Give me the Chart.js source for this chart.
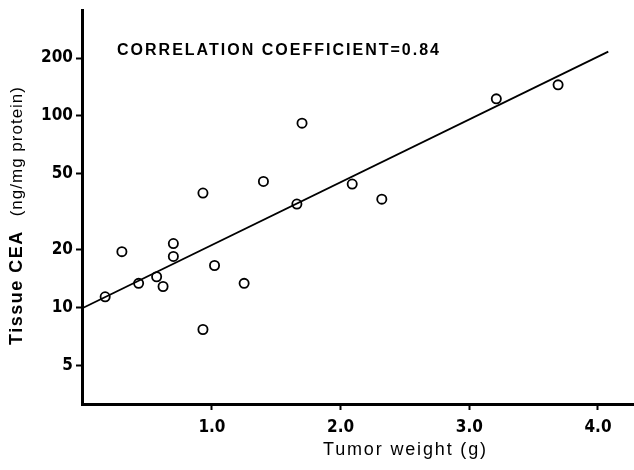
<!DOCTYPE html>
<html>
<head>
<meta charset="utf-8">
<script src="https://cdn.jsdelivr.net/npm/chart.js@4.4.1/dist/chart.umd.min.js"></script>
<style>
  html, body { margin: 0; padding: 0; background: #fff; }
  #wrap { width: 634px; height: 470px; }
</style>
</head>
<body>
<div id="wrap"><canvas id="c" width="634" height="470"></canvas></div>
<script>
// ---- data ----
const tumorWeight = [0.17, 0.30, 0.43, 0.57, 0.62, 0.70, 0.70, 0.93, 0.93, 1.02, 1.25, 1.40, 1.66, 1.70, 2.09, 2.32, 3.21, 3.69];
const tissueCEA   = [11.4, 19.6, 13.4, 14.5, 12.9, 21.6, 18.5, 39.6, 7.7, 16.6, 13.4, 45.5, 34.7, 91.6, 44.1, 36.8, 122.6, 145];
const fitX = [0, 4.08];
const fitY = [10, 216];
const xTicks = [1, 2, 3, 4];
const yTicks = [5, 10, 20, 50, 100, 200];
const annotationText = 'CORRELATION COEFFICIENT=0.84';
const xTitle = 'Tumor weight (g)';
const yTitleBold = 'Tissue CEA';
const yTitleRest = '(ng/mg protein)';

const tickFont = { family: 'DejaVu Sans Condensed, DejaVu Sans', weight: 'bold', size: 17 };

function fitText(ctx, text, width) {
  ctx.letterSpacing = '0px';
  const w = ctx.measureText(text).width;
  const ls = (width - w) / Math.max(1, text.length - 1);
  ctx.letterSpacing = ls + 'px';
}

const textPlugin = {
  id: 'texts',
  afterDraw(chart) {
    const ctx = chart.ctx;
    const a = chart.chartArea;
    ctx.save();
    ctx.fillStyle = '#000';
    ctx.textBaseline = 'middle';
    ctx.textAlign = 'left';
    // annotation
    ctx.font = 'bold 16px "Liberation Sans", Arial, sans-serif';
    fitText(ctx, annotationText, 322);
    ctx.fillText(annotationText, a.left + 35, a.top + 41);
    // x title
    ctx.font = '18px "Liberation Sans", Arial, sans-serif';
    fitText(ctx, xTitle, 163);
    ctx.fillText(xTitle, a.left + 241, a.bottom + 46);
    // y title (rotated)
    ctx.translate(17, 345);
    ctx.rotate(-Math.PI / 2);
    ctx.font = 'bold 18px "Liberation Sans", Arial, sans-serif';
    ctx.letterSpacing = '1.5px';
    ctx.fillText(yTitleBold, 0, 0);
    const w1 = ctx.measureText(yTitleBold).width;
    ctx.font = '17px "Liberation Sans", Arial, sans-serif';
    ctx.letterSpacing = '1px';
    ctx.fillText(yTitleRest, w1 + 14, 0);
    ctx.restore();
  }
};

new Chart(document.getElementById('c'), {
  type: 'scatter',
  data: {
    datasets: [
      {
        type: 'line',
        data: fitX.map((x, i) => ({ x, y: fitY[i] })),
        borderColor: '#000',
        borderWidth: 1.8,
        pointRadius: 0,
        fill: false
      },
      {
        data: tumorWeight.map((x, i) => ({ x, y: tissueCEA[i] })),
        pointRadius: 4.6,
        pointBorderWidth: 1.8,
        pointBorderColor: '#000',
        pointBackgroundColor: '#fff'
      }
    ]
  },
  options: {
    responsive: false,
    animation: false,
    devicePixelRatio: 1,
    layout: { autoPadding: false, padding: { top: 10, right: 0, left: 0, bottom: 0 } },
    plugins: { legend: { display: false }, tooltip: { enabled: false } },
    scales: {
      x: {
        type: 'linear',
        min: -0.01,
        max: 4.28,
        afterBuildTicks: s => { s.ticks = xTicks.map(v => ({ value: v })); },
        afterFit: s => { s.height = 66; s.paddingRight = 0; s.paddingLeft = 0; },
        ticks: { callback: v => Number(v).toFixed(1), font: tickFont, color: '#000', padding: 7, maxRotation: 0, autoSkip: false },
        grid: { display: true, drawOnChartArea: false, drawTicks: true, tickLength: 6, tickWidth: 2, tickColor: '#000' },
        border: { display: true, width: 3, color: '#000' }
      },
      y: {
        type: 'logarithmic',
        min: 3.15,
        max: 356,
        afterBuildTicks: s => { s.ticks = yTicks.map(v => ({ value: v })); },
        afterFit: s => { s.width = 82; s.paddingTop = 0; s.paddingBottom = 0; },
        ticks: { callback: v => String(v), font: tickFont, color: '#000', padding: 3, autoSkip: false },
        grid: { display: true, drawOnChartArea: false, drawTicks: true, tickLength: 6, tickWidth: 2, tickColor: '#000' },
        border: { display: true, width: 3, color: '#000' }
      }
    }
  },
  plugins: [textPlugin]
});
</script>
</body>
</html>
